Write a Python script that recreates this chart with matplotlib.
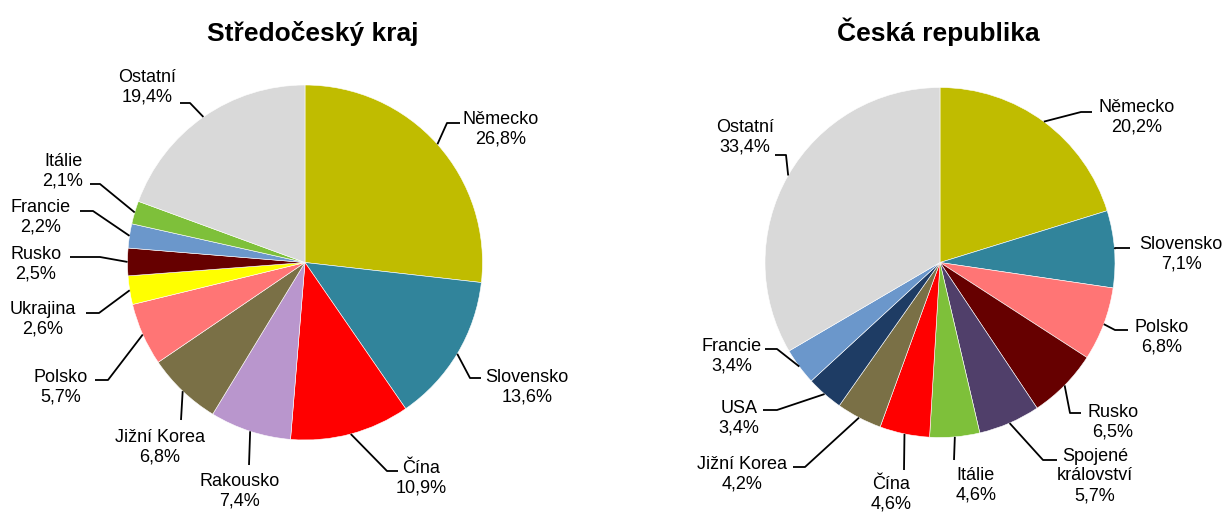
import matplotlib
matplotlib.use("Agg")
import matplotlib.pyplot as plt

plt.rcParams['font.family'] = ['Liberation Sans', 'DejaVu Sans']

W, H = 1227, 512

# --- data ---
left_title = "Středočeský kraj"
left_labels = ["Německo", "Slovensko", "Čína", "Rakousko", "Jižní Korea", "Polsko",
               "Ukrajina", "Rusko", "Francie", "Itálie", "Ostatní"]
left_values = [26.8, 13.6, 10.9, 7.4, 6.8, 5.7, 2.6, 2.5, 2.2, 2.1, 19.4]
left_colors = ["#C0BC00", "#31849B", "#FF0000", "#B996CD", "#7A7046", "#FF7575",
               "#FFFF00", "#660000", "#6B97CB", "#7EC03A", "#D9D9D9"]

right_title = "Česká republika"
right_labels = ["Německo", "Slovensko", "Polsko", "Rusko", "Spojené\nkrálovství", "Itálie",
                "Čína", "Jižní Korea", "USA", "Francie", "Ostatní"]
right_values = [20.2, 7.1, 6.8, 6.5, 5.7, 4.6, 4.6, 4.2, 3.4, 3.4, 33.4]
right_colors = ["#C0BC00", "#31849B", "#FF7575", "#660000", "#503F6A", "#7EC03A",
                "#FF0000", "#7A7046", "#1E3C64", "#6B97CB", "#D9D9D9"]

# --- layout (pixel coords, y down): label block centre, leader elbow, leader end ---
left_layout = [
    ((501, 129), (447, 123), (460, 123)),
    ((527, 387), (470, 378), (481, 378)),
    ((421, 478), (387, 471), (398, 471)),
    ((240, 491), (249, 465), (249, 465)),
    ((160, 447), (181, 420), (181, 420)),
    ((61, 387), (108, 380), (95, 380)),
    ((43, 319), (99, 313), (86, 313)),
    ((36, 264), (100, 257), (70, 257)),
    ((41, 217), (93, 211), (80, 211)),
    ((63, 171), (100, 184), (90, 184)),
    ((147, 87), (190, 103), (180, 103)),
]
right_layout = [
    ((1137, 117), (1081, 112), (1092, 112)),
    ((1181, 254), (1115, 248), (1130, 248)),
    ((1162, 337), (1115, 330), (1128, 330)),
    ((1113, 422), (1070, 413), (1081, 413)),
    ((1095, 476), (1043, 460), (1057, 460)),
    ((976, 485), (954, 460), (954, 460)),
    ((891, 494), (904, 470), (904, 470)),
    ((742, 474), (805, 467), (793, 467)),
    ((739, 418), (777, 410), (763, 410)),
    ((732, 356), (777, 349), (765, 349)),
    ((745, 137), (786, 155), (775, 155)),
]


def fmt(v):
    return f"{v:.1f}".replace(".", ",") + "%"


def draw_pie(ax, title, labels, values, colors, layout, cx, cy, r, tx):
    wedges, _ = ax.pie(values, colors=colors, startangle=90, counterclock=False,
                       center=(cx, H - cy), radius=r, frame=True,
                       wedgeprops=dict(edgecolor="white", linewidth=0.4))
    import numpy as np
    for w, lab, v, (tpos, elbow, end) in zip(wedges, labels, values, layout):
        th = np.deg2rad((w.theta1 + w.theta2) / 2)
        ex, ey = cx + r * np.cos(th), (H - cy) + r * np.sin(th)
        ax.plot([ex, elbow[0], end[0]], [ey, H - elbow[1], H - end[1]],
                color="black", lw=1.3, solid_capstyle="butt", zorder=3)
        ax.text(tpos[0], H - tpos[1], lab + "\n" + fmt(v), ha="center", va="center",
                fontsize=13, linespacing=1.2, multialignment="center")
    ax.text(tx, H - 41, title, ha="center", va="baseline", fontsize=19, fontweight="bold")


fig = plt.figure(figsize=(W / 100, H / 100), dpi=100)
ax = fig.add_axes([0, 0, 1, 1])

draw_pie(ax, left_title, left_labels, left_values, left_colors, left_layout,
         305, 262.5, 177.5, 313)
draw_pie(ax, right_title, right_labels, right_values, right_colors, right_layout,
         940, 262.5, 175, 938)

ax.set_xlim(0, W)
ax.set_ylim(0, H)
ax.set_aspect("auto")
ax.axis("off")

fig.savefig("out.png", dpi=100)
